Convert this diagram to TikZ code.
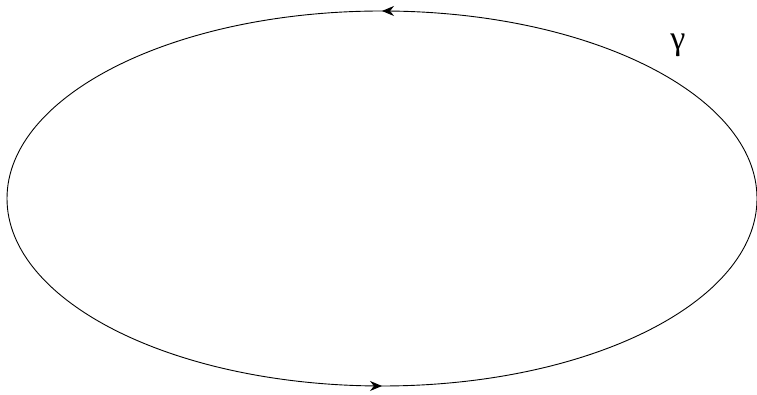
\documentclass[tikz,border=0pt]{standalone}
\usepackage{fontspec}
\newfontfamily\greekfont{Liberation Serif}
\usetikzlibrary{arrows.meta,decorations.markings}
\begin{document}
\begin{tikzpicture}[
    x=1pt, y=1pt,
    curve/.style={line width=0.9pt, color=black, postaction={decorate},
        decoration={markings,
            mark=at position 0.25 with {\arrow{Stealth[length=12pt,width=10pt]}},
            mark=at position 0.75 with {\arrow{Stealth[length=12pt,width=10pt]}}}},
    lbl/.style={font=\greekfont\fontsize{34}{36}\selectfont, inner sep=0pt}
]
\useasboundingbox (0,0) rectangle (757,395);

% Closed curve
\draw[curve] (382,196.5) ellipse [x radius=375, y radius=187.5];

% Curve label
\node[lbl] (gamma) at (678,350) {γ};

\end{tikzpicture}
\end{document}
